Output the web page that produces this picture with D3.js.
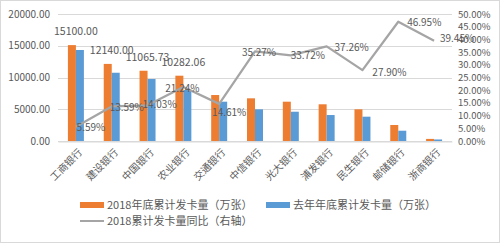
<!DOCTYPE html>
<html>
<head>
<meta charset="utf-8">
<script src="https://cdn.jsdelivr.net/npm/d3@7"></script>
<style>
  body { margin: 0; background: #fff; }
  text { font-family: "Noto Sans CJK SC", "Noto Sans", sans-serif; fill: #595959; }
</style>
</head>
<body>
<div id="chart"></div>
<script>
// datos
const bancos = ["工商银行", "建设银行", "中国银行", "农业银行", "交通银行", "中信银行", "光大银行", "浦发银行", "民生银行", "邮储银行", "浙商银行"]
const tarjetas2018 = [15100, 12140, 11065.73, 10282.06, 7240, 6720, 6190, 5780, 4990, 2520, 330]
const tarjetasAnterior = [14330, 10750, 9760, 8030, 6190, 4990, 4610, 4090, 3830, 1620, 240]
const crecimiento = [5.59, 13.59, 14.03, 21.24, 14.61, 35.27, 33.72, 37.26, 27.90, 46.95, 39.45]
const etiquetasBarra = ["15100.00", "12140.00", "11065.73", "10282.06"]
const ticksIzq = [0, 5000, 10000, 15000, 20000]
const ticksDer = [0, 5, 10, 15, 20, 25, 30, 35, 40, 45, 50]
const leyenda = ["2018年底累计发卡量（万张）", "去年年底累计发卡量（万张）", "2018累计发卡量同比（右轴）"]

const ancho = 500
const alto = 243
const margen = { izquierdo: 58, derecho: 48, superior: 14, inferior: 102 }

// desplazamiento de las etiquetas de porcentaje
const despl = [[15, 1], [15, 1], [12, -1], [-1, 1], [10, 9], [4, 1], [17, 0], [25, 1], [27, 2], [26, 1], [23, -2]]

const colores = ["#ED7D31", "#5B9BD5", "#A5A5A5"]

const svg = d3.select("#chart").append("svg").attr("width", ancho).attr("height", alto)

svg.append("rect").attr("x", 0.5).attr("y", 0.5).attr("width", ancho - 1).attr("height", alto - 1)
  .attr("fill", "#fff").attr("stroke", "#d9d9d9")

const x = d3.scaleBand().domain(bancos).range([margen.izquierdo, ancho - margen.derecho]).padding(0)
const xs = d3.scaleBand().domain([0, 1]).range([0, x.bandwidth()]).paddingInner(0).paddingOuter(1.24)
const y = d3.scaleLinear().domain([0, 20000]).range([141, margen.superior])
const y2 = d3.scaleLinear().domain([0, 50]).range([141, margen.superior])

// rejilla
svg.append("g").selectAll("line").data(ticksIzq).enter().append("line")
  .attr("x1", margen.izquierdo).attr("x2", ancho - margen.derecho)
  .attr("y1", d => Math.round(y(d)) + 0.5).attr("y2", d => Math.round(y(d)) + 0.5)
  .attr("stroke", "#d9d9d9").attr("stroke-width", 1)

// ejes
const ejeY = d3.axisLeft(y).tickValues(ticksIzq).tickSize(0).tickPadding(8).tickFormat(d => d3.format(".2f")(d))
const grupoY = svg.append("g").attr("transform", `translate(${margen.izquierdo},0)`).call(ejeY)
grupoY.select(".domain").remove()
grupoY.selectAll("text").attr("font-size", 10).attr("font-family", "Noto Sans CJK SC").attr("fill", "#595959")

const ejeY2 = d3.axisRight(y2).tickValues(ticksDer).tickSize(0).tickPadding(6).tickFormat(d => d3.format(".2f")(d) + "%")
const grupoY2 = svg.append("g").attr("transform", `translate(${ancho - margen.derecho},0)`).call(ejeY2)
grupoY2.select(".domain").remove()
grupoY2.selectAll("text").attr("font-size", 9.5).attr("font-family", "Noto Sans CJK SC").attr("fill", "#595959")

// barras
const grupos = svg.append("g").selectAll("g").data(bancos).enter().append("g")
  .attr("transform", d => `translate(${x(d)},0)`)
grupos.append("rect")
  .attr("x", xs(0)).attr("width", xs.bandwidth())
  .attr("y", (d, i) => y(tarjetas2018[i])).attr("height", (d, i) => y(0) - y(tarjetas2018[i]))
  .attr("fill", colores[0])
grupos.append("rect")
  .attr("x", xs(1)).attr("width", xs.bandwidth())
  .attr("y", (d, i) => y(tarjetasAnterior[i])).attr("height", (d, i) => y(0) - y(tarjetasAnterior[i]))
  .attr("fill", colores[1])

// eje x
const ejeX = d3.axisBottom(x).tickSize(0).tickFormat("")
const grupoX = svg.append("g").attr("transform", `translate(0,${Math.round(y(0)) + 0.5})`).call(ejeX)
grupoX.select(".domain").attr("stroke", "#d9d9d9")

svg.append("g").selectAll("text").data(bancos).enter().append("text")
  .attr("transform", d => `translate(${x(d) + x.bandwidth() / 2 + 7},${y(0) + 12}) rotate(-45)`)
  .attr("text-anchor", "end").attr("font-size", 10).attr("fill", "#6a6a6a")
  .text(d => d)

// línea
const linea = d3.line().x((d, i) => x(bancos[i]) + x.bandwidth() / 2).y(d => y2(d))
svg.append("path").datum(crecimiento).attr("d", linea)
  .attr("fill", "none").attr("stroke", colores[2]).attr("stroke-width", 2.25).attr("stroke-linejoin", "round")

// etiquetas barras
svg.append("g").selectAll("text").data(etiquetasBarra).enter().append("text")
  .attr("x", (d, i) => x(bancos[i]) + x.bandwidth() / 2)
  .attr("y", (d, i) => y(tarjetas2018[i]) - 10)
  .attr("text-anchor", "middle").attr("font-size", 10.5).text(d => d)

// etiquetas porcentaje
svg.append("g").selectAll("text").data(crecimiento).enter().append("text")
  .attr("x", (d, i) => x(bancos[i]) + x.bandwidth() / 2 + despl[i][0])
  .attr("y", (d, i) => y2(d) + despl[i][1])
  .attr("dy", "0.35em").attr("text-anchor", "middle").attr("font-size", 10)
  .text(d => d3.format(".2f")(d) + "%")

// leyenda
const itemsLeyenda = [
  { x: 80, y: 205, tipo: "rect", color: colores[0], texto: leyenda[0] },
  { x: 266, y: 205, tipo: "rect", color: colores[1], texto: leyenda[1] },
  { x: 80, y: 221, tipo: "line", color: colores[2], texto: leyenda[2] }
]
const grupoLeyenda = svg.append("g")
itemsLeyenda.forEach(it => {
  if (it.tipo === "rect") {
    grupoLeyenda.append("rect").attr("x", it.x).attr("y", it.y - 3).attr("width", 24).attr("height", 6).attr("fill", it.color)
  } else {
    grupoLeyenda.append("line").attr("x1", it.x).attr("x2", it.x + 24).attr("y1", it.y).attr("y2", it.y)
      .attr("stroke", it.color).attr("stroke-width", 2)
  }
  grupoLeyenda.append("text").attr("x", it.x + 27).attr("y", it.y).attr("dy", "0.35em")
    .attr("font-size", 11).text(it.texto)
})
</script>
</body>
</html>
